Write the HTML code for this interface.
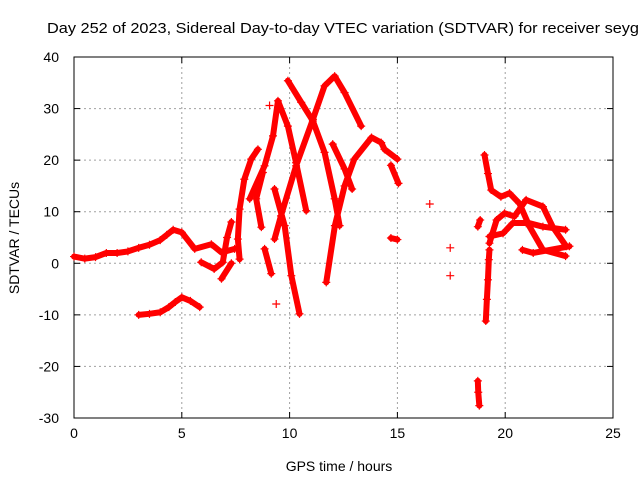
<!DOCTYPE html>
<html><head><meta charset="utf-8"><style>
body{margin:0;background:#fff}
svg{display:block;font-family:"Liberation Sans",sans-serif}
</style></head><body>
<svg id="chart" width="640" height="480">
<rect width="640" height="480" fill="#fff"/>
<text x="47" y="33" font-size="15" textLength="592" lengthAdjust="spacingAndGlyphs">Day 252 of 2023, Sidereal Day-to-day VTEC variation (SDTVAR) for receiver seyg</text>
<g id="grid"></g><g id="axes"></g><g id="marks"></g>
<text x="339" y="471" font-size="14" text-anchor="middle">GPS time / hours</text>
<text transform="translate(19,238) rotate(-90)" font-size="14" text-anchor="middle">SDTVAR / TECUs</text>
</svg>
<script>
const xTicks=[0,5,10,15,20,25];
const yTicks=[-30,-20,-10,0,10,20,30,40];
const track1=[[0,1.3],[0.5,0.9],[1,1.2],[1.5,2],[2,2],[2.5,2.3],[3,3],[3.5,3.6],[4,4.5],[4.3,5.5],[4.6,6.5],[5,6],[5.6,2.8],[6.37,3.7],[6.84,2.1],[7.45,2.8]];
const track2=[[3,-10],[3.5,-9.8],[4,-9.5],[4.4,-8.5],[4.7,-7.5],[5,-6.6],[5.4,-7.3],[5.83,-8.5]];
const track3=[[5.9,0.2],[6.5,-1.1],[6.9,0.2],[7.1,5],[7.3,8]];
const track4=[[6.84,-3],[7.3,0]];
const track5=[[7.68,0.8],[7.6,4.7],[7.68,10.5],[7.9,16.3],[8.22,20.2],[8.53,22.1]];
const track6=[[8.76,17.6],[8.45,12.5],[8.69,7]];
const track7=[[8.15,12.5],[8.84,18.9],[9.23,24.7],[9.46,31.5],[9.92,26.6],[10.3,19.5],[10.77,10.2]];
const track8=[[9.92,35.4],[10.54,31.2],[11.08,27.6],[11.62,21.5],[12.09,12.5],[12.32,7.3]];
const track9=[[9.3,4.7],[9.6,9.2],[10.3,18.9],[11.08,27.9],[11.62,34.4],[12.09,36.3],[12.55,33.1],[13.32,26.6]];
const track10=[[9.3,14.4],[9.77,7.3],[10.08,-2.4],[10.46,-9.8]];
const track11=[[11.7,-3.7],[12.1,7.3],[12.55,15],[13,20.2],[13.8,24.4],[14.25,23.4],[14.4,22.1],[15,20.2]];
const track12=[[12,23.1],[12.55,18.3],[12.9,14.4]];
const track13=[[14.7,19],[15.05,15.5]];
const track14=[[8.84,2.8],[9.15,-2]];
const track15=[[14.7,4.9],[15,4.6]];
const track16=[[19.04,21],[19.2,17.4],[19.35,14.2],[19.8,12.9],[20.2,13.6],[20.66,11.6],[21.13,7.1],[21.75,2.6],[22.8,1.4]];
const track17=[[19.27,3.9],[19.6,8.4],[19.97,9.7],[20.43,9.1],[20.97,12.3],[21.75,11],[22.2,7.1],[22.83,3.3]];
const track18=[[20.8,2.6],[21.3,2],[22.98,3.3]];
const track19=[[19.27,5.2],[19.9,5.8],[20.35,7.8],[21.1,7.8],[21.75,7.1],[22.8,6.5]];
const track20=[[19.27,2.6],[19.24,0.7],[19.2,-3.2],[19.15,-7],[19.1,-11.2]];
const track21=[[18.73,-22.8],[18.75,-25],[18.8,-27.6]];
const track22=[[18.73,7.1],[18.84,8.4]];
const lonePoints=[[17.45,3],[17.45,-2.4],[16.5,11.5],[9.38,-7.9],[9.07,30.6]];
const tracks=[track1,track2,track3,track4,track5,track6,track7,track8,track9,track10,track11,track12,track13,track14,track15,track16,track17,track18,track19,track20,track21,track22];

const X0=74,X1=613,Y0=418,Y1=57;
const xs=v=>X0+(v-0)/25*(X1-X0);
const ys=v=>Y0-(v+30)/70*(Y0-Y1);
const NS="http://www.w3.org/2000/svg";
function mk(tag,attrs,parent){const e=document.createElementNS(NS,tag);for(const k in attrs)e.setAttribute(k,attrs[k]);parent.appendChild(e);return e;}
const grid=document.getElementById('grid'),axes=document.getElementById('axes'),marks=document.getElementById('marks');
xTicks.forEach(t=>{
  const x=xs(t);
  if(t>0&&t<25){const l=mk('line',{x1:x,x2:x,y1:Y1,y2:Y0,stroke:'#a0a0a0','stroke-dasharray':'2,3'},grid);
  
  }
  mk('line',{x1:x,x2:x,y1:Y0,y2:Y0-6,stroke:'#000'},axes);
  mk('line',{x1:x,x2:x,y1:Y1,y2:Y1+6,stroke:'#000'},axes);
  const tx=mk('text',{x:x,y:Y0+20,'font-size':14,'text-anchor':'middle'},axes);tx.textContent=t;
  
  
});
yTicks.forEach(t=>{
  const y=ys(t);
  if(t>-30&&t<40){const l=mk('line',{x1:X0,x2:X1,y1:y,y2:y,stroke:'#a0a0a0','stroke-dasharray':'2,3'},grid);
  
  }
  mk('line',{x1:X0,x2:X0+6,y1:y,y2:y,stroke:'#000'},axes);
  mk('line',{x1:X1,x2:X1-6,y1:y,y2:y,stroke:'#000'},axes);
  const tx=mk('text',{x:X0-15,y:y+5,'font-size':14,'text-anchor':'end'},axes);tx.textContent=t;
  
  
});
const frame=mk('rect',{x:X0,y:Y1,width:X1-X0,height:Y0-Y1,fill:'none',stroke:'#000'},axes);


function plus(p,parent){const x=xs(p[0]),y=ys(p[1]);mk('path',{d:`M${x-4},${y}H${x+4}M${x},${y-4}V${y+4}`,stroke:'#f00','stroke-width':1.2},parent);}
tracks.forEach(tr=>{
  const g=mk('g',{},marks);
  
  
  mk('polyline',{points:tr.map(p=>xs(p[0])+','+ys(p[1])).join(' '),fill:'none',stroke:'#f00','stroke-width':6,'stroke-linejoin':'round','stroke-linecap':'round'},g);
  tr.forEach(p=>plus(p,g));
});
lonePoints.forEach(p=>{
  const g=mk('g',{},marks);
  
  
  plus(p,g);
});
</script>
</body></html>
